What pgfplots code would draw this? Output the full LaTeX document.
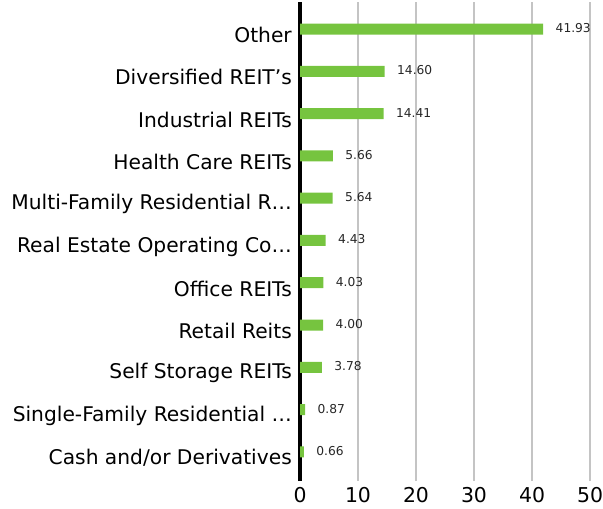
\documentclass[border=0pt]{standalone}
\usepackage{fontspec}
\setmainfont{DejaVu Sans}
\usepackage{pgfplots}
\pgfplotsset{compat=1.18}
\definecolor{barGreen}{HTML}{76C43F}
\definecolor{gridGray}{HTML}{C4C4C4}
\begin{document}
\begin{tikzpicture}
\begin{axis}[
  xbar,
  scale only axis,
  width=290bp, height=479bp,
  xmin=0, xmax=50,
  ymin=-0.69, ymax=10.64,
  axis x line*=bottom,
  axis y line*=left,
  x axis line style={draw=none},
  y axis line style={black, line width=4bp},
  xtick={0,10,...,50},
  ytick={0,...,10},
  yticklabels={Cash and/or Derivatives, Single-Family Residential …, Self Storage REITs, Retail Reits, Office REITs, Real Estate Operating Co…, Multi-Family Residential R…, Health Care REITs, Industrial REITs, Diversified REIT's, Other},
  major tick length=0pt,
  xmajorgrids,
  grid style={gridGray, line width=2bp},
  /pgf/number format/assume math mode=true,
  yticklabel style={font=\fontsize{20.3}{24}\selectfont, inner sep=0pt, anchor=east, xshift=-8bp, yshift=-6bp},
  xticklabel style={font=\fontsize{20.5}{24}\selectfont, inner sep=0pt, anchor=north, yshift=-6bp},
  bar width=11bp,
  nodes near coords,
  nodes near coords style={font=\fontsize{12.3}{14}\selectfont, anchor=west, xshift=9bp, yshift=1bp, text=black!85,
    /pgf/number format/.cd, fixed, precision=2, fixed zerofill},
  clip=false,
]
\addplot[fill=barGreen, draw=none] coordinates {
  (41.93,10) (14.60,9) (14.41,8) (5.66,7) (5.64,6) (4.43,5) (4.03,4) (4.00,3) (3.78,2) (0.87,1) (0.66,0)
};
\end{axis}
\path (current axis.south west) ++(-300bp,-27bp);
\end{tikzpicture}
\end{document}
